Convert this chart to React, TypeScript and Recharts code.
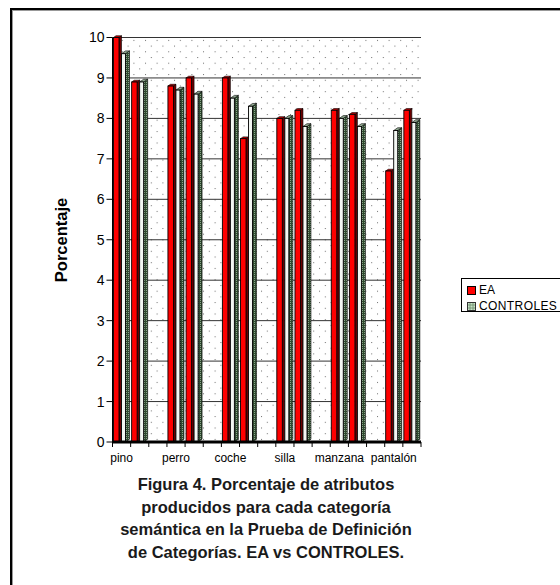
import React from "react";
import { BarChart, Bar, XAxis, YAxis, CartesianGrid, Legend } from "recharts";

const categories = ["pino", "perro", "coche", "silla", "manzana", "pantalón"];
const eaFirst = [10, 8.8, 9.0, 8.0, 8.2, 6.7];
const controlesFirst = [9.6, 8.7, 8.5, 8.0, 8.0, 7.7];
const eaSecond = [8.9, 9.0, 7.5, 8.2, 8.1, 8.2];
const controlesSecond = [8.9, 8.6, 8.3, 7.8, 7.8, 7.9];
const yTicks = [0, 1, 2, 3, 4, 5, 6, 7, 8, 9, 10];

// two bar slots per category, then an empty slot (none after the last one)
const data: any[] = [];
categories.forEach((c, i) => {
  data.push({ slot: i + "a", label: c, ea: eaFirst[i], controles: controlesFirst[i] });
  data.push({ slot: i + "b", label: "", ea: eaSecond[i], controles: controlesSecond[i] });
  if (i < categories.length - 1) data.push({ slot: i + "c", label: "", ea: null, controles: null });
});

const FONT = '"Liberation Sans", Arial, sans-serif';
const W = 560;
const H = 585;
const PLOT_LEFT = 112.5;
const PLOT_RIGHT = 421;
const PLOT_TOP = 37.5;
const PLOT_BOTTOM = 442;
const Y_AXIS_W = 60;
const X_AXIS_H = 30;

const make3D = (front: string, side: string, top: string, depth: number) => (props: any) => {
  const { x, y, width, height } = props;
  if (!height || height <= 0) return null;
  const d = depth;
  const w = width - d;
  return (
    <g>
      <path d={`M${x + w},${y} l${d},${-d * 0.7} v${height} l${-d},${d * 0.7} z`} fill={side} stroke="#000" strokeWidth={0.6} />
      <path d={`M${x},${y} l${d},${-d * 0.7} h${w} l${-d},${d * 0.7} z`} fill={top} stroke="#000" strokeWidth={0.6} />
      <rect x={x} y={y} width={w} height={height} fill={front} stroke="#000" strokeWidth={0.9} />
    </g>
  );
};

const RedBar = make3D("#ff0000", "#6a0000", "#c00000", 2.5);
const GreenBar = make3D("#f3f7f3", "url(#greenSide)", "#8fa88f", 4);

const SlotTick = (props: any) => {
  const { x, y, index } = props;
  const step = (PLOT_RIGHT - PLOT_LEFT) / data.length;
  const label = data[index] ? data[index].label : "";
  return (
    <g>
      <line x1={x - step / 2} x2={x - step / 2} y1={y} y2={y + 5} stroke="#000" />
      {index === data.length - 1 && (
        <line x1={x + step / 2} x2={x + step / 2} y1={y} y2={y + 5} stroke="#000" />
      )}
      {label && (
        <text x={x} y={y + 20} textAnchor="middle" fontSize={12} fill="#000" fontFamily={FONT}>
          {label}
        </text>
      )}
    </g>
  );
};

const LegendBox = () => (
  <div
    style={{
      border: "1px solid #000",
      width: 120,
      height: 34,
      background: "#fff",
      fontFamily: FONT,
      fontSize: 12,
      color: "#000",
      boxSizing: "border-box",
      paddingLeft: 5,
      paddingTop: 3,
    }}
  >
    <div style={{ display: "flex", alignItems: "center", height: 16 }}>
      <span style={{ width: 7, height: 7, background: "#ff0000", border: "1px solid #000", marginRight: 3 }} />
      <span>EA</span>
    </div>
    <div style={{ display: "flex", alignItems: "center", height: 16 }}>
      <svg width={9} height={9} style={{ marginRight: 3 }}>
        <rect x={0.5} y={0.5} width={8} height={8} fill="#c6e2c6" stroke="#333" />
        <path d="M3,1 v7 M6,1 v7 M1,3 h7 M1,6 h7" stroke="#6a8a6a" strokeWidth={0.8} />
      </svg>
      <span style={{ letterSpacing: 0.4 }}>CONTROLES</span>
    </div>
  </div>
);

export default function App() {
  return (
    <div
      style={{
        position: "absolute",
        left: 0,
        top: 0,
        width: W,
        height: H,
        overflow: "hidden",
        background: "#fff",
      }}
    >
      <div
        style={{
          position: "absolute",
          left: 10,
          top: 8,
          width: 700,
          height: 700,
          borderLeft: "2px solid #000",
          borderTop: "2px solid #000",
          boxShadow: "inset 1px 1px 0 #999",
        }}
      />
      <BarChart
        width={W}
        height={H}
        data={data}
        margin={{
          top: PLOT_TOP,
          right: W - PLOT_RIGHT,
          left: PLOT_LEFT - Y_AXIS_W,
          bottom: H - PLOT_BOTTOM - X_AXIS_H,
        }}
        barCategoryGap={1}
        barGap={0}
      >
        <defs>
          <pattern id="dots" width={11.6} height={11.4} patternUnits="userSpaceOnUse">
            <rect width={11.6} height={11.4} fill="#fff" />
            <rect x={0} y={0} width={1} height={1} fill="#707070" />
            <rect x={5.8} y={5.7} width={1} height={1} fill="#707070" />
          </pattern>
          <pattern id="greenSide" width={2} height={2} patternUnits="userSpaceOnUse">
            <rect width={2} height={2} fill="#2f4a2f" />
            <rect x={0} y={0} width={1} height={1} fill="#8aa38a" />
          </pattern>
        </defs>
        <CartesianGrid vertical={false} stroke="#333" fill="url(#dots)" />
        <XAxis
          dataKey="slot"
          height={X_AXIS_H}
          interval={0}
          tickSize={0}
          tickMargin={0}
          tickLine={false}
          axisLine={{ stroke: "#000", strokeWidth: 3 }}
          tick={<SlotTick />}
        />
        <YAxis
          width={Y_AXIS_W}
          domain={[0, 10]}
          ticks={yTicks}
          tickSize={6}
          tickMargin={2}
          axisLine={{ stroke: "#000" }}
          tickLine={{ stroke: "#000" }}
          tick={{ fill: "#000", fontSize: 14, fontFamily: FONT }}
          label={{
            content: () => (
              <text
                x={61}
                y={240}
                transform="rotate(-90 61 240)"
                textAnchor="middle"
                dominantBaseline="central"
                fontSize={16.5}
                fontWeight="bold"
                fill="#000"
                fontFamily={FONT}
              >
                Porcentaje
              </text>
            ),
          }}
        />
        <YAxis
          yAxisId="right"
          orientation="right"
          width={0}
          domain={[0, 10]}
          tick={false}
          tickLine={false}
          axisLine={{ stroke: "#000" }}
        />
        <Legend
          layout="vertical"
          align="center"
          verticalAlign="middle"
          wrapperStyle={{ left: 461, top: 278, width: 120, height: 34 }}
          content={<LegendBox />}
        />
        <Bar dataKey="ea" name="EA" fill="#ff0000" shape={RedBar} isAnimationActive={false} />
        <Bar dataKey="controles" name="CONTROLES" fill="#c6e2c6" shape={GreenBar} isAnimationActive={false} />
      </BarChart>
      <div
        style={{
          position: "absolute",
          left: 116,
          top: 473,
          width: 300,
          textAlign: "center",
          fontFamily: FONT,
          fontWeight: "bold",
          fontSize: 16.5,
          lineHeight: "22.5px",
          color: "#1a1a1a",
        }}
      >
        Figura 4. Porcentaje de atributos
        <br />
        producidos para cada categoría
        <br />
        semántica en la Prueba de Definición
        <br />
        de Categorías. EA vs CONTROLES.
      </div>
    </div>
  );
}
